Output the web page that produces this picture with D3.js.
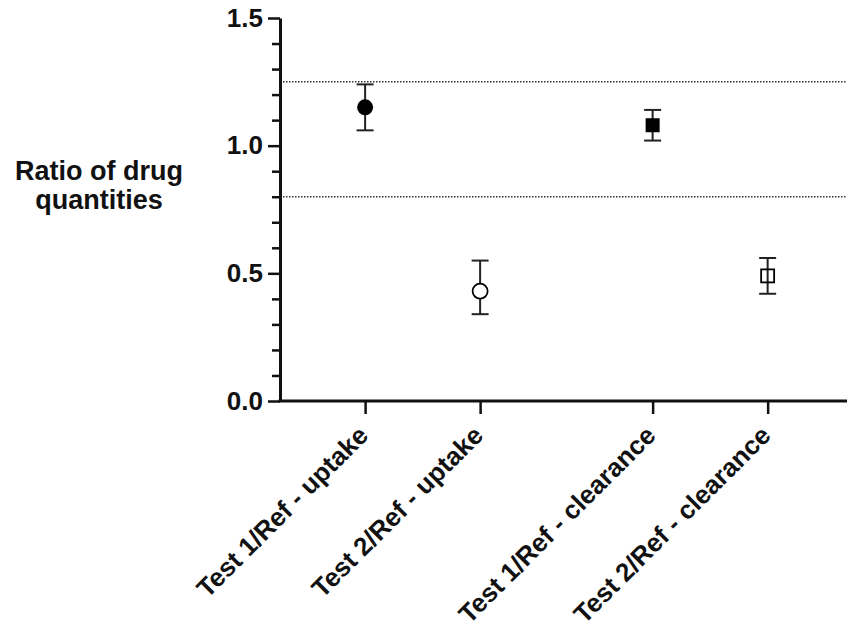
<!DOCTYPE html>
<html>
<head>
<meta charset="utf-8">
<script src="https://cdn.jsdelivr.net/npm/d3@7"></script>
<style>
  html, body { margin: 0; padding: 0; background: #fff; }
  svg { display: block; font-family: "Liberation Sans", Arial, sans-serif; }
</style>
</head>
<body>
<svg id="chart" width="847" height="636"></svg>
<script>
// ---- data ----
const categories = ["Test 1/Ref - uptake", "Test 2/Ref - uptake", "Test 1/Ref - clearance", "Test 2/Ref - clearance"];
const groups = ["uptake", "uptake", "clearance", "clearance"];
const means = [1.15, 0.43, 1.08, 0.49];
const lower = [1.06, 0.34, 1.02, 0.42];
const upper = [1.24, 0.55, 1.14, 0.56];
const shapes = ["circle", "circle", "square", "square"];
const filled = [true, false, true, false];
const yTicks = [0.0, 0.5, 1.0, 1.5];
const yMinorTicks = [0.1, 0.2, 0.3, 0.4, 0.6, 0.7, 0.8, 0.9, 1.1, 1.2, 1.3, 1.4];
const refLines = [1.25, 0.80];
const yTitle = ["Ratio of drug", "quantities"];

// ---- layout ----
const svg = d3.select("#chart");
const plotLeft = 280, plotRight = 847, plotTop = 18, plotBottom = 401;
const groupGap = 0.5;
const groupNames = Array.from(new Set(groups));
const slot = categories.map((c, i) => i + groupGap * groupNames.indexOf(groups[i]));

const x = d3.scaleLinear().domain([-0.74, 4.19]).range([plotLeft, plotRight]);
const y = d3.scaleLinear().domain([0, 1.5]).range([plotBottom, plotTop]);

const ink = "#111";

// reference dotted lines
svg.append("g").selectAll("line").data(refLines).join("line")
  .attr("x1", plotLeft).attr("x2", plotRight)
  .attr("y1", d => y(d)).attr("y2", d => y(d))
  .attr("stroke", "#333").attr("stroke-width", 1.5)
  .attr("stroke-dasharray", "1.5,1.5");

// y minor ticks
const yMinor = svg.append("g").attr("transform", `translate(${plotLeft},0)`)
  .call(d3.axisLeft(y).tickValues(yMinorTicks).tickSize(8).tickSizeOuter(0).tickFormat(""));
yMinor.select(".domain").remove();
yMinor.selectAll("line").attr("stroke", ink).attr("stroke-width", 2.5);

// y axis major
const yAxis = svg.append("g").attr("transform", `translate(${plotLeft},0)`)
  .call(d3.axisLeft(y).tickValues(yTicks).tickSize(12).tickSizeOuter(0).tickPadding(5).tickFormat(d3.format(".1f")));
yAxis.select(".domain").attr("stroke", ink).attr("stroke-width", 3);
yAxis.selectAll("line").attr("stroke", ink).attr("stroke-width", 2.5);
yAxis.selectAll("text").attr("font-size", 26).attr("font-weight", "bold").attr("fill", ink);

// x axis
const xAxis = svg.append("g").attr("transform", `translate(0,${plotBottom})`)
  .call(d3.axisBottom(x).tickValues(slot).tickSize(13).tickSizeOuter(0)
    .tickFormat((d, i) => categories[i]));
xAxis.select(".domain").attr("stroke", ink).attr("stroke-width", 3)
  .attr("d", `M${plotLeft - 1.5},0H${plotRight}`);
xAxis.selectAll("line").attr("stroke", ink).attr("stroke-width", 2.5);
xAxis.selectAll("text")
  .attr("y", 0).attr("dy", 0)
  .attr("text-anchor", "end")
  .attr("transform", "translate(4,36) rotate(-45)")
  .attr("font-size", 26).attr("font-weight", "bold").attr("fill", ink);

// y title
const title = svg.append("text").attr("x", 99).attr("y", 180)
  .attr("text-anchor", "middle").attr("font-size", 27).attr("font-weight", "bold").attr("fill", ink);
title.selectAll("tspan").data(yTitle).join("tspan")
  .attr("x", 99).attr("dy", (d, i) => i === 0 ? 0 : 29).text(d => d);

// error bars
const capHalf = 8.5;
const eb = svg.append("g").attr("stroke", "#222").attr("stroke-width", 2);
categories.forEach((c, i) => {
  const cx = x(slot[i]);
  eb.append("line").attr("x1", cx).attr("x2", cx).attr("y1", y(upper[i])).attr("y2", y(lower[i]));
  eb.append("line").attr("x1", cx - capHalf).attr("x2", cx + capHalf).attr("y1", y(upper[i])).attr("y2", y(upper[i]));
  eb.append("line").attr("x1", cx - capHalf).attr("x2", cx + capHalf).attr("y1", y(lower[i])).attr("y2", y(lower[i]));
});

// markers
const mk = svg.append("g");
categories.forEach((c, i) => {
  const cx = x(slot[i]), cy = y(means[i]);
  if (shapes[i] === "circle") {
    const r = filled[i] ? 8 : 7.5;
    mk.append("circle").attr("cx", cx).attr("cy", cy).attr("r", r)
      .attr("fill", filled[i] ? "#000" : "#fff")
      .attr("stroke", "#000").attr("stroke-width", filled[i] ? 0 : 1.8);
  } else {
    const s = filled[i] ? 14 : 13;
    mk.append("rect").attr("x", cx - s / 2).attr("y", cy - s / 2).attr("width", s).attr("height", s)
      .attr("fill", filled[i] ? "#000" : "none")
      .attr("stroke", "#000").attr("stroke-width", filled[i] ? 0 : 1.8);
  }
});
</script>
</body>
</html>
